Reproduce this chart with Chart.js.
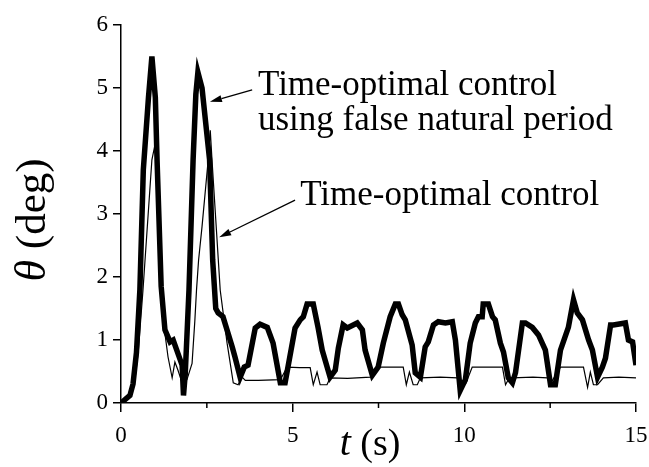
<!DOCTYPE html>
<html><head><meta charset="utf-8">
<script src="https://cdn.jsdelivr.net/npm/chart.js@4/dist/chart.umd.min.js"></script>
<style>html,body{margin:0;padding:0;background:#fff}#wrap{width:649px;height:467px}</style>
</head><body><div id="wrap"><canvas id="c" width="649" height="467"></canvas></div>
<script>
// Time-optimal control using false natural period (thick line)
const falseT = [0,0.26,0.35,0.45,0.55,0.65,0.8,0.9,1.0,1.05,1.17,1.28,1.43,1.52,1.78,1.82,1.87,1.98,2.1,2.18,2.24,2.36,2.58,2.67,2.76,2.83,2.97,3.24,3.32,3.47,3.59,3.70,3.91,4.05,4.26,4.43,4.64,4.78,5.07,5.22,5.31,5.42,5.6,5.74,5.86,6.09,6.24,6.33,6.47,6.59,6.88,7.03,7.11,7.32,7.49,7.64,7.84,7.99,8.08,8.19,8.28,8.48,8.57,8.72,8.86,8.95,9.1,9.24,9.45,9.65,9.74,9.88,10.03,10.17,10.32,10.41,10.52,10.55,10.7,10.82,10.9,11.05,11.14,11.28,11.4,11.49,11.69,11.78,11.98,12.16,12.36,12.51,12.65,12.8,13.03,13.18,13.29,13.44,13.62,13.73,13.88,14.02,14.11,14.26,14.34,14.69,14.78,14.9,15.0];
const falseTheta = [0,0.12,0.3,0.8,1.8,3.7,4.85,5.5,4.85,3.86,1.85,1.16,0.97,1.0,0.6,0.12,0.45,1.79,3.86,4.9,5.25,5.0,3.86,2.27,1.5,1.43,1.37,0.89,0.73,0.41,0.57,0.6,1.19,1.25,1.2,0.95,0.32,0.32,1.19,1.32,1.37,1.57,1.57,1.2,0.84,0.41,0.52,0.87,1.24,1.19,1.27,1.16,0.84,0.44,0.57,0.95,1.37,1.57,1.57,1.4,1.32,0.92,0.48,0.41,0.89,0.97,1.24,1.29,1.27,1.29,1.0,0.2,0.37,0.95,1.27,1.37,1.37,1.57,1.57,1.37,1.32,0.95,0.81,0.4,0.32,0.48,1.27,1.27,1.2,1.08,0.84,0.29,0.29,0.84,1.2,1.64,1.43,1.32,1.0,0.84,0.41,0.57,0.71,1.24,1.24,1.27,1.0,0.97,0.6];
// Time-optimal control (thin line)
const optT = [0,0.3,0.4,0.5,0.64,0.9,0.99,1.05,1.14,1.28,1.37,1.49,1.57,1.66,1.78,1.92,2.07,2.15,2.2,2.26,2.36,2.54,2.6,2.65,2.89,3.09,3.27,3.41,3.53,3.62,4.0,4.64,4.84,5.2,5.51,5.6,5.71,5.8,6.0,6.09,6.6,7.26,7.46,8.22,8.31,8.4,8.51,8.63,8.72,9.3,9.8,10.0,10.05,10.23,11.11,11.2,11.28,11.4,12.0,12.42,12.5,12.8,13.47,13.59,13.67,13.76,13.88,14.05,14.5,15.0];
const optTheta = [0,0.12,0.35,0.8,1.79,3.86,4.1,3.6,1.8,1.1,0.73,0.4,0.65,0.52,0.32,0.37,0.63,1.3,1.8,2.27,2.8,3.86,4.33,3.86,1.79,0.95,0.32,0.29,0.41,0.36,0.36,0.37,0.57,0.56,0.56,0.29,0.49,0.29,0.29,0.4,0.39,0.41,0.57,0.57,0.29,0.49,0.29,0.29,0.4,0.41,0.4,0.29,0.32,0.57,0.57,0.29,0.37,0.4,0.41,0.4,0.3,0.57,0.57,0.25,0.49,0.29,0.29,0.4,0.41,0.4];

const seriesNames = ['Time-optimal control using false natural period','Time-optimal control'];
const xTicks = [0,5,10,15];
const xMinorTicks = [2.5,7.5,12.5];
const yTicks = [0,1,2,3,4,5,6];
const xTitle = ['t',' (s)'];
const yTitle = ['\u03b8',' (deg)'];
// annotation texts anchored in data coordinates [t, theta]
const noteTexts = [
  {text:'Time-optimal control', at:[3.99,4.89]},
  {text:'using false natural period', at:[3.99,4.33]},
  {text:'Time-optimal control', at:[5.22,3.14]}
];
const noteArrows = [
  {from:[3.82,4.97], to:[2.59,4.78]},
  {from:[5.07,3.22], to:[2.86,2.63]}
];

const SERIF = '"Liberation Serif", "Times New Roman", serif';
const zip = (a,b)=>a.map((v,i)=>({x:v,y:b[i]}));

const extras = {
  id:'extras',
  afterDraw(chart){
    const ctx = chart.ctx, xs = chart.scales.x, ys = chart.scales.y;
    ctx.save();
    ctx.strokeStyle='#000'; ctx.lineWidth=1.5;
    xMinorTicks.forEach(v=>{
      const px = xs.getPixelForValue(v);
      ctx.beginPath(); ctx.moveTo(px, ys.bottom); ctx.lineTo(px, ys.bottom+5); ctx.stroke();
    });
    ctx.fillStyle='#000';
    ctx.textBaseline='alphabetic';
    // x title
    ctx.font = 'italic 40px '+SERIF;
    const w1 = ctx.measureText(xTitle[0]).width;
    ctx.font = '38px '+SERIF;
    const w2 = ctx.measureText(xTitle[1]).width;
    let sx = 370 - (w1+w2)/2;
    ctx.font = 'italic 40px '+SERIF; ctx.fillText(xTitle[0], sx, 455);
    ctx.font = '38px '+SERIF; ctx.fillText(xTitle[1], sx+w1, 455);
    // y title
    ctx.save();
    ctx.translate(45, 220); ctx.rotate(-Math.PI/2);
    ctx.font = 'italic 44px '+SERIF;
    const v1 = ctx.measureText(yTitle[0]).width;
    ctx.font = '43px '+SERIF;
    const v2 = ctx.measureText(yTitle[1]).width;
    let sy = -(v1+v2)/2;
    ctx.font = 'italic 44px '+SERIF; ctx.fillText(yTitle[0], sy, 0);
    ctx.font = '43px '+SERIF; ctx.fillText(yTitle[1], sy+v1, 0);
    ctx.restore();
    // notes
    ctx.font = '35px '+SERIF;
    noteTexts.forEach(n=>{
      ctx.fillText(n.text, xs.getPixelForValue(n.at[0]), ys.getPixelForValue(n.at[1]));
    });
    ctx.lineWidth=1.3;
    noteArrows.forEach(a=>{
      const x0=xs.getPixelForValue(a.from[0]), y0=ys.getPixelForValue(a.from[1]);
      const x1=xs.getPixelForValue(a.to[0]), y1=ys.getPixelForValue(a.to[1]);
      const ang=Math.atan2(y1-y0,x1-x0), L=12, W=3.5;
      const bx=x1-L*Math.cos(ang), by=y1-L*Math.sin(ang);
      ctx.beginPath(); ctx.moveTo(x0,y0); ctx.lineTo(bx,by); ctx.stroke();
      ctx.beginPath(); ctx.moveTo(x1,y1);
      ctx.lineTo(bx+W*Math.sin(ang), by-W*Math.cos(ang));
      ctx.lineTo(bx-W*Math.sin(ang), by+W*Math.cos(ang));
      ctx.closePath(); ctx.fill();
    });
    ctx.restore();
  }
};

new Chart(document.getElementById('c'), {
  type:'scatter',
  data:{datasets:[
    {label:seriesNames[0], data:zip(falseT,falseTheta), showLine:true, borderColor:'#000', borderWidth:5.5, pointRadius:0, borderJoinStyle:'miter', tension:0, order:0},
    {label:seriesNames[1], data:zip(optT,optTheta), showLine:true, borderColor:'#000', borderWidth:1.2, pointRadius:0, tension:0, order:1}
  ]},
  options:{
    responsive:false, animation:false, devicePixelRatio:1,
    layout:{padding:{top:25,right:0,left:0,bottom:0}},
    plugins:{legend:{display:false}, tooltip:{enabled:false}},
    scales:{
      x:{type:'linear', min:0, max:15,
        afterBuildTicks:s=>{s.ticks=xTicks.map(v=>({value:v}));},
        afterFit:s=>{s.height=64; s.paddingRight=13; s.paddingLeft=0;},
        ticks:{font:{family:SERIF,size:23}, color:'#000', padding:10, maxRotation:0, autoSkip:false},
        grid:{drawOnChartArea:false, tickLength:9, color:'#000', lineWidth:1.5},
        border:{display:true, color:'#000', width:1.5}},
      y:{type:'linear', min:0, max:6,
        afterBuildTicks:s=>{s.ticks=yTicks.map(v=>({value:v}));},
        afterFit:s=>{s.width=121;},
        ticks:{font:{family:SERIF,size:23}, color:'#000', padding:5, autoSkip:false},
        grid:{drawOnChartArea:false, tickLength:8, color:'#000', lineWidth:1.5},
        border:{display:true, color:'#000', width:1.5}}
    }
  },
  plugins:[extras]
});
</script></body></html>
